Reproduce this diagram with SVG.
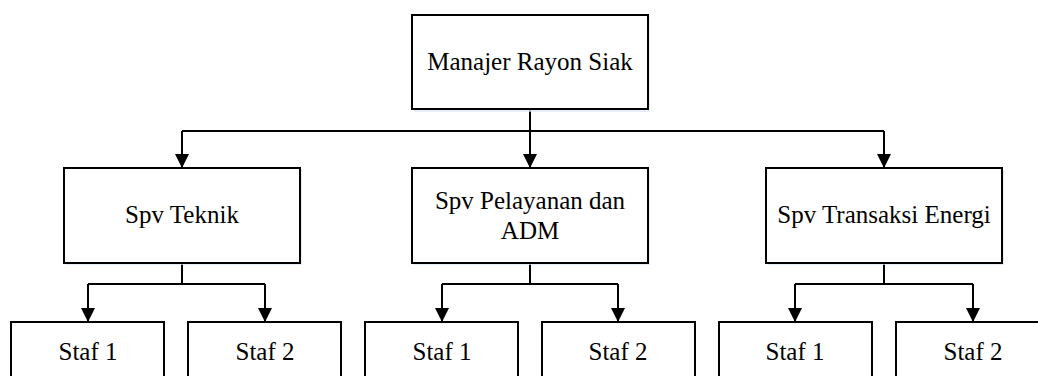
<svg xmlns="http://www.w3.org/2000/svg" width="1038" height="376" viewBox="0 0 1038 376">
  <style>
    .box { fill: #ffffff; stroke: #000000; stroke-width: 2; }
    .shadow { fill: #dbe6f3; opacity: 0.7; }
    .label { font-family: "Liberation Serif", "Times New Roman", serif; font-size: 25px; fill: #000000; text-anchor: middle; }
    .wire { fill: none; stroke: #000000; stroke-width: 2; }
  </style>
  <defs>
    <marker id="arrow" markerUnits="userSpaceOnUse" markerWidth="14" markerHeight="14" viewBox="0 0 14 14" refX="14" refY="7" orient="auto">
      <path d="M0,0 L14,7 L0,14 Z" fill="#000000"/>
    </marker>
  </defs>

  <rect width="1038" height="376" fill="#ffffff"/>

  <!-- connectors -->
  <g id="connectors">
    <line class="wire" x1="530" y1="109" x2="530" y2="131"/>
    <line class="wire" x1="182" y1="131" x2="884" y2="131"/>
    <line class="wire" x1="182" y1="131" x2="182" y2="168" marker-end="url(#arrow)"/>
    <line class="wire" x1="530" y1="131" x2="530" y2="168" marker-end="url(#arrow)"/>
    <line class="wire" x1="884" y1="131" x2="884" y2="168" marker-end="url(#arrow)"/>

    <line class="wire" x1="182" y1="263" x2="182" y2="284"/>
    <line class="wire" x1="88" y1="284" x2="265" y2="284"/>
    <line class="wire" x1="88" y1="284" x2="88" y2="322" marker-end="url(#arrow)"/>
    <line class="wire" x1="265" y1="284" x2="265" y2="322" marker-end="url(#arrow)"/>

    <line class="wire" x1="530" y1="263" x2="530" y2="284"/>
    <line class="wire" x1="442" y1="284" x2="618" y2="284"/>
    <line class="wire" x1="442" y1="284" x2="442" y2="322" marker-end="url(#arrow)"/>
    <line class="wire" x1="618" y1="284" x2="618" y2="322" marker-end="url(#arrow)"/>

    <line class="wire" x1="884" y1="263" x2="884" y2="284"/>
    <line class="wire" x1="795" y1="284" x2="973" y2="284"/>
    <line class="wire" x1="795" y1="284" x2="795" y2="322" marker-end="url(#arrow)"/>
    <line class="wire" x1="973" y1="284" x2="973" y2="322" marker-end="url(#arrow)"/>
  </g>

  <g id="manajer">
    <rect class="shadow" x="414" y="17" width="236" height="95"/>
    <rect class="box" x="412" y="15" width="236" height="94"/>
    <text class="label" x="530" y="70">Manajer Rayon Siak</text>
  </g>

  <g id="spv-teknik">
    <rect class="shadow" x="66" y="170" width="236" height="95"/>
    <rect class="box" x="64" y="168" width="236" height="95"/>
    <text class="label" x="182" y="223">Spv Teknik</text>
  </g>

  <g id="spv-pelayanan">
    <rect class="shadow" x="414" y="170" width="236" height="95"/>
    <rect class="box" x="412" y="168" width="236" height="95"/>
    <text class="label" x="530" y="209">Spv Pelayanan dan</text>
    <text class="label" x="530" y="239">ADM</text>
  </g>

  <g id="spv-transaksi">
    <rect class="shadow" x="768" y="170" width="236" height="95"/>
    <rect class="box" x="766" y="168" width="236" height="95"/>
    <text class="label" x="884" y="223">Spv Transaksi Energi</text>
  </g>

  <g id="teknik-staf1">
    <rect class="box" x="11" y="322" width="153" height="95"/>
    <text class="label" x="88" y="360">Staf 1</text>
  </g>
  <g id="teknik-staf2">
    <rect class="box" x="188" y="322" width="153" height="95"/>
    <text class="label" x="265" y="360">Staf 2</text>
  </g>

  <g id="pelayanan-staf1">
    <rect class="box" x="365" y="322" width="153" height="95"/>
    <text class="label" x="442" y="360">Staf 1</text>
  </g>
  <g id="pelayanan-staf2">
    <rect class="box" x="542" y="322" width="153" height="95"/>
    <text class="label" x="618" y="360">Staf 2</text>
  </g>

  <g id="transaksi-staf1">
    <rect class="box" x="719" y="322" width="153" height="95"/>
    <text class="label" x="795" y="360">Staf 1</text>
  </g>
  <g id="transaksi-staf2">
    <rect class="box" x="896" y="322" width="153" height="95"/>
    <text class="label" x="973" y="360">Staf 2</text>
  </g>
</svg>
